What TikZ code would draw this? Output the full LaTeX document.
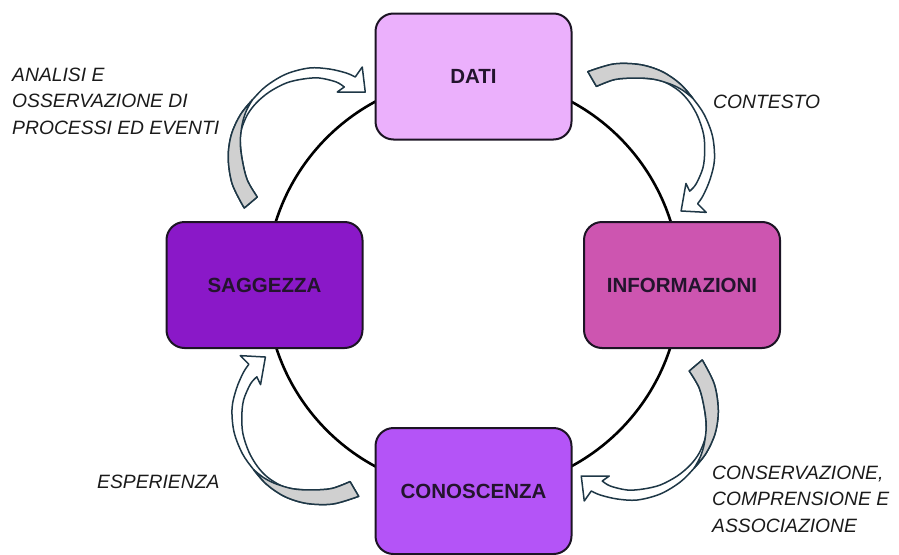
\documentclass[tikz,border=0pt]{standalone}
\usepackage{fontspec}
\setmainfont{Liberation Sans}
\definecolor{datifill}{RGB}{235,176,252}
\definecolor{infofill}{RGB}{205,85,176}
\definecolor{saggfill}{RGB}{138,24,200}
\definecolor{conofill}{RGB}{180,84,247}
\definecolor{boxedge}{RGB}{28,20,36}
\definecolor{boxtext}{RGB}{35,20,45}
\definecolor{arrowedge}{RGB}{30,55,70}
\definecolor{ribbonback}{RGB}{208,208,208}
\definecolor{labeltext}{RGB}{26,26,26}

\tikzset{
  stagebox/.style={draw=boxedge, line width=2pt, rounded corners=18pt,
    minimum width=196pt, minimum height=126pt, inner sep=0pt,
    text=boxtext, font=\fontsize{20.5}{24}\selectfont\bfseries},
  ringline/.style={draw=black, line width=2.6pt},
  arrowline/.style={draw=arrowedge, line width=1.5pt, line join=round},
  sidelabel/.style={text=labeltext, inner sep=0pt, align=left,
    font=\fontsize{19.3}{26.5}\selectfont\itshape},
  % curved ribbon arrow, coordinates relative to the ring centre
  cyclearrow/.pic={
    % front face of the ribbon with the head
    \filldraw[arrowline, fill=white]
      plot[smooth, tension=0.55] coordinates {(-229,-76) (-241,-100) (-245,-126)
        (-242,-149) (-233,-169) (-221,-184) (-207,-198) (-187,-210) (-164,-216)
        (-144,-215) (-127,-211) (-118,-207)}
      -- (-111,-217) -- (-108,-192) -- (-136,-192) -- (-129,-197)
      -- plot[smooth, tension=0.55] coordinates {(-129,-197) (-137,-202)
        (-154,-206) (-170,-205) (-187,-201) (-204,-192) (-217,-181) (-226,-169)
        (-232,-154) (-233,-142) (-231,-124) (-226,-104) (-216,-87)}
      -- cycle;
    % back face visible near the tail
    \filldraw[arrowline, fill=ribbonback]
      plot[smooth, tension=0.55] coordinates {(-229,-76) (-241,-100) (-245,-126)
        (-242,-149) (-233,-169) (-221,-184)}
      -- plot[smooth, tension=0.55] coordinates {(-221,-184) (-227,-173)
        (-231,-160) (-233,-142) (-231,-124) (-226,-104) (-216,-87)}
      -- cycle;
  }
}

\begin{document}
\begin{tikzpicture}[x=1pt,y=-1pt]
\useasboundingbox (0,0) rectangle (899,554);
\coordinate (ctr) at (473.25,284);

% the cycle ring
\draw[ringline] (ctr) circle[radius=207pt];

% curved arrows between the stages
\path (ctr) pic {cyclearrow};
\path (ctr) pic[rotate=-100] {cyclearrow};
\path (ctr) pic[rotate=-180] {cyclearrow};
\path (ctr) pic[rotate=-280] {cyclearrow};

% stages
\node[stagebox, fill=datifill] (dati) at (473.5,76.5) {DATI};
\node[stagebox, fill=infofill] (info) at (682,285) {INFORMAZIONI};
\node[stagebox, fill=conofill] (cono) at (473.5,491) {CONOSCENZA};
\node[stagebox, fill=saggfill] (sagg) at (264.5,285) {SAGGEZZA};

% transition labels (base anchor sits on the last line)
\node[sidelabel, anchor=base west] (lanalisi) at (12,134) {ANALISI E\\OSSERVAZIONE DI\\PROCESSI ED EVENTI};
\node[sidelabel, anchor=base west] (lcontesto) at (713,108) {CONTESTO};
\node[sidelabel, anchor=base west] (lconserv) at (712,532) {CONSERVAZIONE,\\COMPRENSIONE E\\ASSOCIAZIONE};
\node[sidelabel, anchor=base west] (lesper) at (97,488) {ESPERIENZA};
\end{tikzpicture}
\end{document}
